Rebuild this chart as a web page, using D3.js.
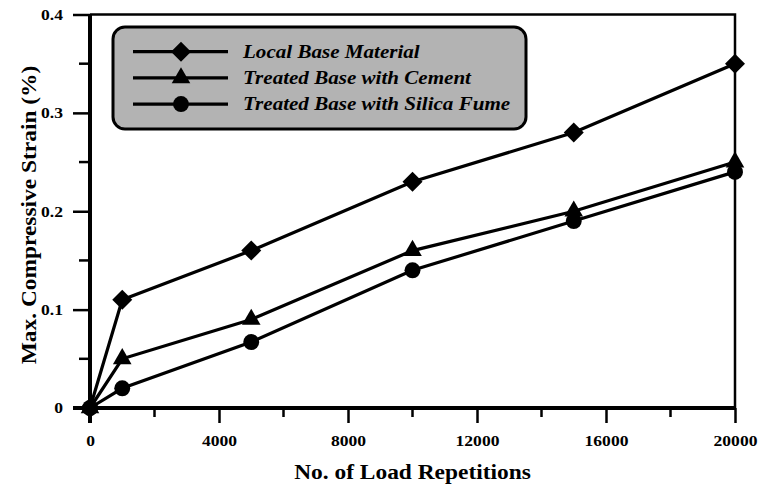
<!DOCTYPE html>
<html>
<head>
<meta charset="utf-8">
<script src="https://cdn.jsdelivr.net/npm/d3@7"></script>
<style>
  body { margin: 0; background: #fff; }
  text { font-family: "Liberation Serif", "Times New Roman", serif; font-weight: bold; }
</style>
</head>
<body>
<div id="chart"></div>
<script>
// data
var repetitions = [0, 1000, 5000, 10000, 15000, 20000];
var localBase = [0, 0.11, 0.16, 0.23, 0.28, 0.35];
var cementBase = [0, 0.05, 0.09, 0.16, 0.20, 0.25];
var silicaBase = [0, 0.02, 0.067, 0.14, 0.19, 0.24];
var seriesNames = ["Local Base Material", "Treated Base with Cement", "Treated Base with Silica Fume"];
var xTicks = [0, 4000, 8000, 12000, 16000, 20000];
var yTicks = [0, 0.1, 0.2, 0.3, 0.4];

var width = 761, height = 486;
var plotLeft = 90, plotRight = 735, plotTop = 14.5, plotBottom = 408;
var widen = 1.17; // the original text is drawn a bit wider than normal

var svg = d3.select("#chart").append("svg")
  .attr("width", width)
  .attr("height", height);

// stretch text horizontally by a factor
function stretch(sel) {
  sel.each(function() {
    var len = this.getComputedTextLength();
    d3.select(this).attr("textLength", len * widen).attr("lengthAdjust", "spacingAndGlyphs");
  });
}

var x = d3.scaleLinear().domain([0, 20000]).range([plotLeft, plotRight]);
var y = d3.scaleLinear().domain([0, 0.4]).range([plotBottom, plotTop]);

// frame (top + right)
svg.append("path")
  .attr("d", "M" + plotLeft + "," + plotTop + "H" + plotRight + "V" + plotBottom)
  .attr("fill", "none").attr("stroke", "#000").attr("stroke-width", 2.5);

// minor ticks
var xMinor = d3.range(2000, 20000, 4000);
var yMinor = d3.range(0.05, 0.4, 0.1);
svg.selectAll(".xminor").data(xMinor).enter().append("line")
  .attr("x1", d => x(d)).attr("x2", d => x(d))
  .attr("y1", plotBottom).attr("y2", plotBottom + 9)
  .attr("stroke", "#000").attr("stroke-width", 2.5);
svg.selectAll(".yminor").data(yMinor).enter().append("line")
  .attr("y1", d => y(d)).attr("y2", d => y(d))
  .attr("x1", plotLeft).attr("x2", plotLeft - 11)
  .attr("stroke", "#000").attr("stroke-width", 2.5);

// axes
var xAxis = svg.append("g")
  .attr("transform", "translate(0," + plotBottom + ")")
  .call(d3.axisBottom(x).tickValues(xTicks).tickSize(15).tickPadding(12).tickFormat(d3.format("d")));
var yAxis = svg.append("g")
  .attr("transform", "translate(" + plotLeft + ",0)")
  .call(d3.axisLeft(y).tickValues(yTicks).tickSize(17).tickPadding(10).tickFormat(d => d === 0 ? "0" : d3.format(".1f")(d)));

[xAxis, yAxis].forEach(function(g) {
  g.select(".domain").attr("stroke-width", 4).attr("stroke", "#000");
  g.selectAll(".tick line").attr("stroke-width", 2.5).attr("stroke", "#000");
  g.selectAll(".tick text")
    .attr("fill", "#000")
    .style("font-size", "15px")
    .style("font-family", '"Liberation Serif", "Times New Roman", serif')
    .style("font-weight", "bold")
    .call(stretch);
});
xAxis.select(".domain").attr("d", "M" + (plotLeft - 17) + ",0H" + plotRight);
yAxis.select(".domain").attr("d", "M0," + (plotBottom + 15) + "V" + plotTop);

// axis titles
svg.append("text")
  .attr("x", (plotLeft + plotRight) / 2).attr("y", 479)
  .attr("text-anchor", "middle")
  .style("font-size", "20px")
  .text("No. of Load Repetitions")
  .call(stretch);
svg.append("text")
  .attr("transform", "translate(35.5," + 215 + ") rotate(-90)")
  .attr("text-anchor", "middle")
  .style("font-size", "20px")
  .text("Max. Compressive Strain (%)")
  .call(stretch);

var allSeries = [localBase, cementBase, silicaBase];
var symbols = [
  d3.symbol().type(d3.symbolSquare).size(200),
  d3.symbol().type(d3.symbolTriangle).size(150),
  d3.symbol().type(d3.symbolCircle).size(200)
];
var symbolRot = [45, 0, 0];
var line = d3.line().x((d, i) => x(repetitions[i])).y(d => y(d));

allSeries.forEach(function(values, s) {
  svg.append("path")
    .datum(values)
    .attr("d", line)
    .attr("fill", "none")
    .attr("stroke", "#000")
    .attr("stroke-width", 3.2);
  svg.selectAll(".m" + s).data(values).enter().append("path")
    .attr("transform", (d, i) => "translate(" + x(repetitions[i]) + "," + y(d) + ") rotate(" + symbolRot[s] + ")")
    .attr("d", symbols[s])
    .attr("fill", "#000");
});

// legend
var legend = svg.append("g");
legend.append("rect")
  .attr("x", 113).attr("y", 27)
  .attr("width", 413).attr("height", 102)
  .attr("rx", 12)
  .attr("fill", "#b3b3b3")
  .attr("stroke", "#000").attr("stroke-width", 3);
seriesNames.forEach(function(name, s) {
  var ly = 51.7 + s * 26.2;
  legend.append("line")
    .attr("x1", 133).attr("x2", 228)
    .attr("y1", ly).attr("y2", ly)
    .attr("stroke", "#000").attr("stroke-width", 3.2);
  legend.append("path")
    .attr("transform", "translate(181," + ly + ") rotate(" + symbolRot[s] + ")")
    .attr("d", symbols[s])
    .attr("fill", "#000");
  legend.append("text")
    .attr("x", 243).attr("y", ly + 6)
    .style("font-size", "18px")
    .style("font-style", "italic")
    .text(name)
    .call(stretch);
});
</script>
</body>
</html>
